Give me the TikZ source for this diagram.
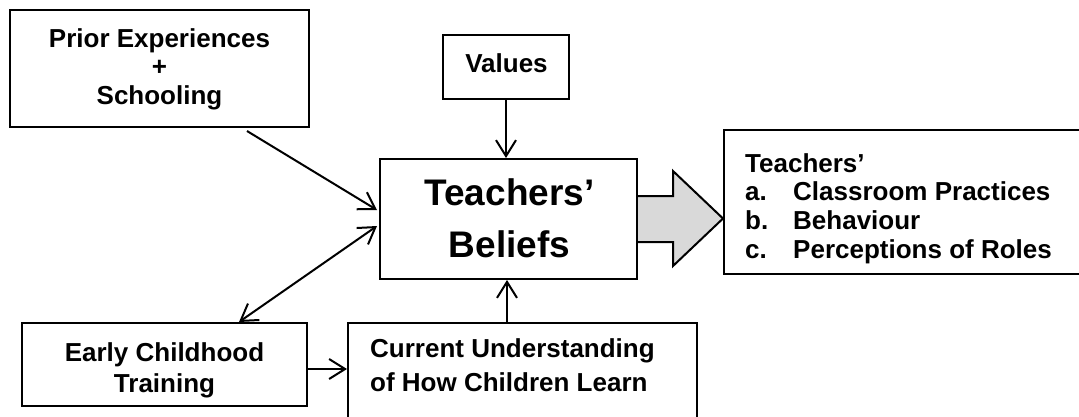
\documentclass[tikz,border=0pt]{standalone}
\usepackage{fontspec}
\setmainfont{Liberation Sans}
\usetikzlibrary{arrows.meta,calc}
\definecolor{arrowgray}{HTML}{D9D9D9}
\begin{document}
\begin{tikzpicture}[x=1pt,y=-1pt,
  box/.style={draw=black,line width=2pt,rectangle,inner sep=0pt},
  txt/.style={inner sep=0pt,font=\bfseries\fontsize{26}{28.5}\selectfont},
  arr/.style={line width=2pt,-{Straight Barb[length=16pt,width=20pt,line width=2pt]}},
  darr/.style={line width=2pt,{Straight Barb[length=16pt,width=20pt,line width=2pt]}-{Straight Barb[length=16pt,width=20pt,line width=2pt]}}
]
\useasboundingbox (0,0) rectangle (1079,416);
% boxes
\node[box,minimum width=299pt,minimum height=117pt] (prior) at (159.5,68.5) {};
\node[box,minimum width=126pt,minimum height=64pt] (values) at (506,67) {};
\node[box,minimum width=257pt,minimum height=120pt] (beliefs) at (508.5,219) {};
\node[box,minimum width=366pt,minimum height=144pt] (out) at (907,202) {};
\node[box,minimum width=285pt,minimum height=83pt] (early) at (164.5,364.5) {};
\node[box,minimum width=349pt,minimum height=117pt] (current) at (522.5,381.5) {};
% texts
\node[txt,align=center,anchor=north] (priortext) at (159.5,28.4) {Prior Experiences\\+\\Schooling};
\node[txt,anchor=base] (valuestext) at (506.5,72) {Values};
\node[txt,align=center,anchor=north,font=\bfseries\fontsize{37}{52}\selectfont] (beliefstext) at (509.5,178) {Teachers’\\Beliefs};
\node[txt,align=left,anchor=north west,font=\bfseries\fontsize{26}{28.7}\selectfont] (outtext) at (745,153) {Teachers’\\\makebox[48pt][l]{a.}Classroom Practices\\\makebox[48pt][l]{b.}Behaviour\\\makebox[48pt][l]{c.}Perceptions of Roles};
\node[txt,align=center,anchor=north,font=\bfseries\fontsize{26}{31}\selectfont] (earlytext) at (164.5,342) {Early Childhood\\Training};
\node[txt,align=left,anchor=north west,font=\bfseries\fontsize{26}{34}\selectfont] (currenttext) at (370,338) {Current Understanding\\of How Children Learn};
% big arrow
\draw[line width=2pt,fill=arrowgray,line join=miter]
  ($(beliefs.east)+(0,-23)$) -- ++(35,0) -- ++(0,-25) -- (out.west |- 0,218.5)
  -- ($(beliefs.east)+(35,47)$) -- ++(0,-24) -- ($(beliefs.east)+(0,23)$);
% connectors
\draw[arr] ([xshift=87.5pt,yshift=-3pt]prior.south) -- ([yshift=9pt,xshift=-2pt]beliefs.west);
\draw[darr] ([yshift=-7pt,xshift=-2pt]beliefs.west) -- ([xshift=74.5pt]early.north);
\draw[arr] (values.south) -- (values.south |- beliefs.north);
\draw[arr] ([xshift=-15.5pt]current.north) -- ([xshift=-15.5pt]current.north |- beliefs.south);
\draw[arr] ([yshift=-4.5pt]early.east) -- ([yshift=-4.5pt]early.east -| current.west);
\end{tikzpicture}
\end{document}
